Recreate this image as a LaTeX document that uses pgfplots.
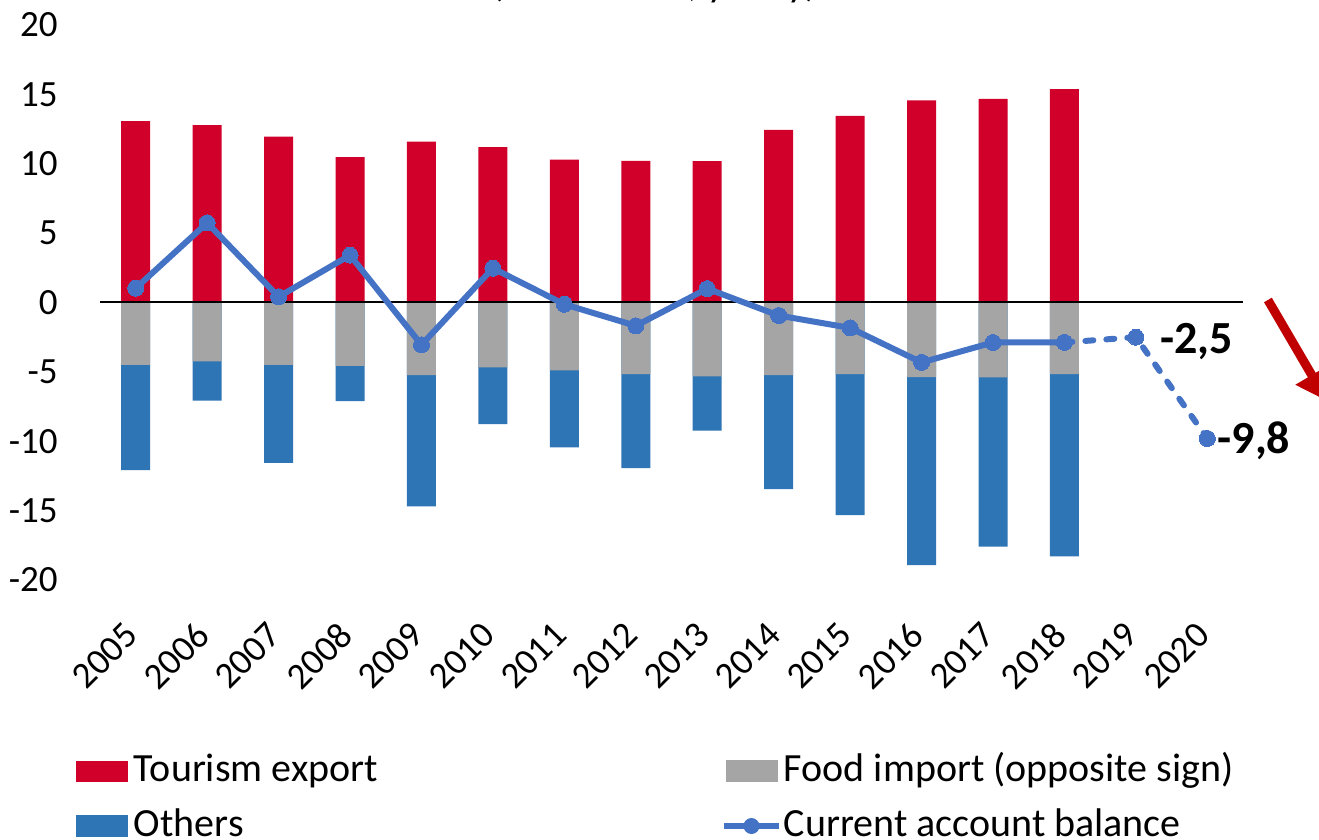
\documentclass[border=0pt]{standalone}
\usepackage{pgfplots}
\pgfplotsset{compat=1.18}
\usepackage{pgfplotstable}
\usepackage{fontspec}
\setmainfont{Carlito}
\usetikzlibrary{arrows.meta}
\definecolor{tred}{HTML}{D0002A}
\definecolor{fgray}{HTML}{A5A5A5}
\definecolor{oblue}{HTML}{2E75B6}
\definecolor{calb}{HTML}{4472C4}
\definecolor{arrred}{HTML}{C00000}

\pgfplotstableread{
x tour food oth ca
0 13.07 -4.50 -7.58 1.03
1 12.78 -4.25 -2.83 5.74
2 11.96 -4.50 -7.06 0.41
3 10.47 -4.57 -2.54 3.41
4 11.60 -5.24 -9.46 -3.05
5 11.20 -4.67 -4.10 2.47
6 10.30 -4.90 -5.55 -0.13
7 10.20 -5.17 -6.77 -1.68
8 10.19 -5.33 -3.90 1.00
9 12.44 -5.24 -8.21 -0.94
10 13.45 -5.17 -10.16 -1.83
11 14.56 -5.38 -13.55 -4.32
12 14.68 -5.40 -12.20 -2.88
13 15.37 -5.17 -13.13 -2.88
}\data

\begin{document}
\begin{tikzpicture}
\path[use as bounding box, clip] (-67.86pt,152pt) rectangle (591.64pt,-268pt);
\node[anchor=base, font=\fontsize{20}{24}\selectfont] at (259.6pt,153.5pt) {(in \% of GDP, yearly)};
\begin{axis}[
  at={(-17.86pt,-138pt)}, anchor=south west,
  x=35.72pt, y=6.9375pt,
  xmin=-0.5, xmax=15.5, ymin=-20, ymax=20,
  axis line style={draw=none}, tick style={draw=none}, major tick length=0pt,
  xtick={0,...,15},
  xticklabels={2005,2006,2007,2008,2009,2010,2011,2012,2013,2014,2015,2016,2017,2018,2019,2020},
  ytick={-20,-15,-10,-5,0,5,10,15,20},
  yticklabels={-20,-15,-10,-5,0,5,10,15,20},
  tick label style={font=\fontsize{18.5}{22}\selectfont},
  yticklabel style={anchor=east, inner sep=0pt, xshift=-21pt},
  xticklabel style={inner sep=0pt, yshift=-24.5pt, xshift=-2pt, rotate=45, anchor=east},
  clip=false,
  legend columns=2,
  legend cell align=left,
  legend style={draw=none, fill=none, at={(-0.021,-0.313)}, anchor=north west,
    inner sep=0pt, outer sep=0pt, column sep=0pt, row sep=9.5pt,
    font=\fontsize{20}{24}\selectfont,
    nodes={inner sep=0pt, text height=14pt, text depth=4pt}},
]
\addplot[ybar, bar width=14.5pt, bar shift=0pt, fill=oblue, draw=none, forget plot]
  table[x=x, y expr=\thisrow{food}+\thisrow{oth}] {\data};
\addplot[ybar, bar width=14.5pt, bar shift=0pt, fill=fgray, draw=none, forget plot]
  table[x=x, y=food] {\data};
\addplot[ybar, bar width=14.5pt, bar shift=0pt, fill=tred, draw=none, forget plot]
  table[x=x, y=tour] {\data};
\addplot[black, line width=1pt, forget plot] coordinates {(-0.5,0) (15.5,0)};
\addplot[calb, line width=3pt, line join=round, mark=*, mark size=4pt,
  mark options={solid, fill=calb, draw=calb, line width=0pt}, forget plot]
  table[x=x, y=ca] {\data};
\addplot[calb, line width=3pt, line cap=round, dash pattern=on 4pt off 6.5pt, mark=*, mark size=4pt,
  mark options={solid, fill=calb, draw=calb, line width=0pt}, forget plot]
  coordinates {(13,-2.88) (14,-2.5) (15,-9.8)};
\node[anchor=base west, inner sep=0pt, font=\bfseries\fontsize{23}{27}\selectfont, xshift=12pt, yshift=-8.3pt]
  at (axis cs:14,-2.5) {-2,5};
\node[anchor=base west, inner sep=0pt, font=\bfseries\fontsize{23}{27}\selectfont, xshift=5pt, yshift=-7.6pt]
  at (axis cs:15,-9.8) {-9,8};

\addlegendimage{draw=none, legend image code/.code={\fill[tred] (0pt,-5pt) rectangle (26pt,5.5pt); \path[draw=none] (0pt,0pt) -- (29pt,0pt);}}
\addlegendentry{\makebox[293.5pt][l]{Tourism export}}
\addlegendimage{draw=none, legend image code/.code={\fill[fgray] (0pt,-5pt) rectangle (26pt,5.75pt); \path[draw=none] (0pt,0pt) -- (29pt,0pt);}}
\addlegendentry{Food import (opposite sign)}
\addlegendimage{draw=none, legend image code/.code={\fill[oblue] (0pt,-5pt) rectangle (26pt,5.75pt); \path[draw=none] (0pt,0pt) -- (29pt,0pt);}}
\addlegendentry{\makebox[293.5pt][l]{Others}}
\addlegendimage{draw=none, legend image code/.code={\draw[calb, line width=3pt] (-1pt,0.35pt) -- (26.5pt,0.35pt); \fill[calb] (12.75pt,0.35pt) circle (4pt); \path[draw=none] (0pt,0pt) -- (29pt,0pt);}}
\addlegendentry{Current account balance}
\end{axis}
\draw[arrred, line width=4.5pt, -{Triangle[width=18pt, length=15pt]}] (566.1pt,2pt) -- (595.6pt,-48.5pt);
\end{tikzpicture}
\end{document}
